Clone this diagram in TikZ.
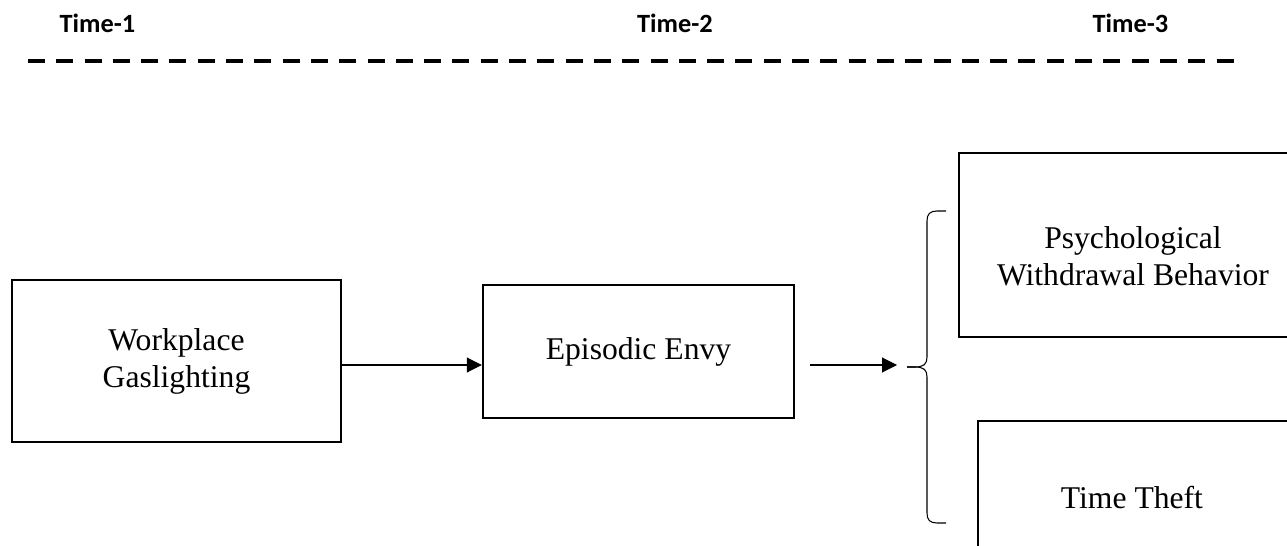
\documentclass[tikz,border=0pt]{standalone}
\usepackage{fontspec}
\setmainfont{Liberation Serif}
\newfontfamily\wavefont{Carlito}
\usepackage{tikz}
\usetikzlibrary{arrows.meta, calc}

\begin{document}
\begin{tikzpicture}[
    var/.style={draw, line width=1.4pt, align=center, inner sep=0pt,
      font=\fontsize{18}{21}\selectfont},
    vartext/.style={align=center, font=\fontsize{18}{21}\selectfont},
    wave/.style={anchor=base, font=\wavefont\bfseries\fontsize{15}{18}\selectfont},
    flow/.style={-{Triangle[length=3mm, width=3mm]}, line width=0.6pt},
  ]
  \useasboundingbox (0,0) rectangle (25.74,-10.92);
  \clip (0,0) rectangle (25.74,-10.92);

  \node[wave] (T1) at (1.95,-0.65) {Time-1};
  \node[wave] (T2) at (13.5,-0.65) {Time-2};
  \node[wave] (T3) at (22.61,-0.65) {Time-3};
  \draw[line width=2.8pt, dash pattern=on 0.34cm off 0.226cm] (0.56,-1.22) -- (24.84,-1.22);

  \node[var, minimum width=6.58cm, minimum height=3.24cm] (gas) at (3.53,-7.22) {Workplace\\Gaslighting};
  \node[var, minimum width=6.22cm, minimum height=2.66cm] (envy) at (12.77,-7.03) {Episodic Envy};
  \node[var, minimum width=6.96cm, minimum height=3.68cm] (psy) at (22.66,-4.9) {};
  \node[vartext] (psyText) at ($(psy.center)+(0,-0.22)$) {Psychological\\Withdrawal Behavior};
  \node[var, minimum width=6.44cm, minimum height=3.18cm] (theft) at (22.78,-10.01) {};
  \node[vartext] (theftText) at (22.64,-9.95) {Time Theft};

  \coordinate (flowrow) at (0,-7.3);
  \coordinate (envyout) at (16.2,-7.3);
  \coordinate (bracein) at (17.94,-7.3);
  \coordinate (tip) at (18.14,-7.34);

  \draw[flow] (gas.east |- flowrow) -- (envy.west |- flowrow);
  \draw[flow] (envyout) -- (bracein);

  \draw[line width=0.6pt] (18.92,-4.22) -- (18.74,-4.22)
    .. controls (18.6,-4.22) and (18.54,-4.28) .. (18.54,-4.42) -- (18.54,-7.14)
    .. controls (18.54,-7.28) and (18.48,-7.34) .. (18.3,-7.34) -- (tip);
  \draw[line width=0.6pt] (tip) -- (18.3,-7.34)
    .. controls (18.48,-7.34) and (18.54,-7.4) .. (18.54,-7.54) -- (18.54,-10.26)
    .. controls (18.54,-10.4) and (18.6,-10.46) .. (18.74,-10.46) -- (18.92,-10.46);
\end{tikzpicture}
\end{document}
